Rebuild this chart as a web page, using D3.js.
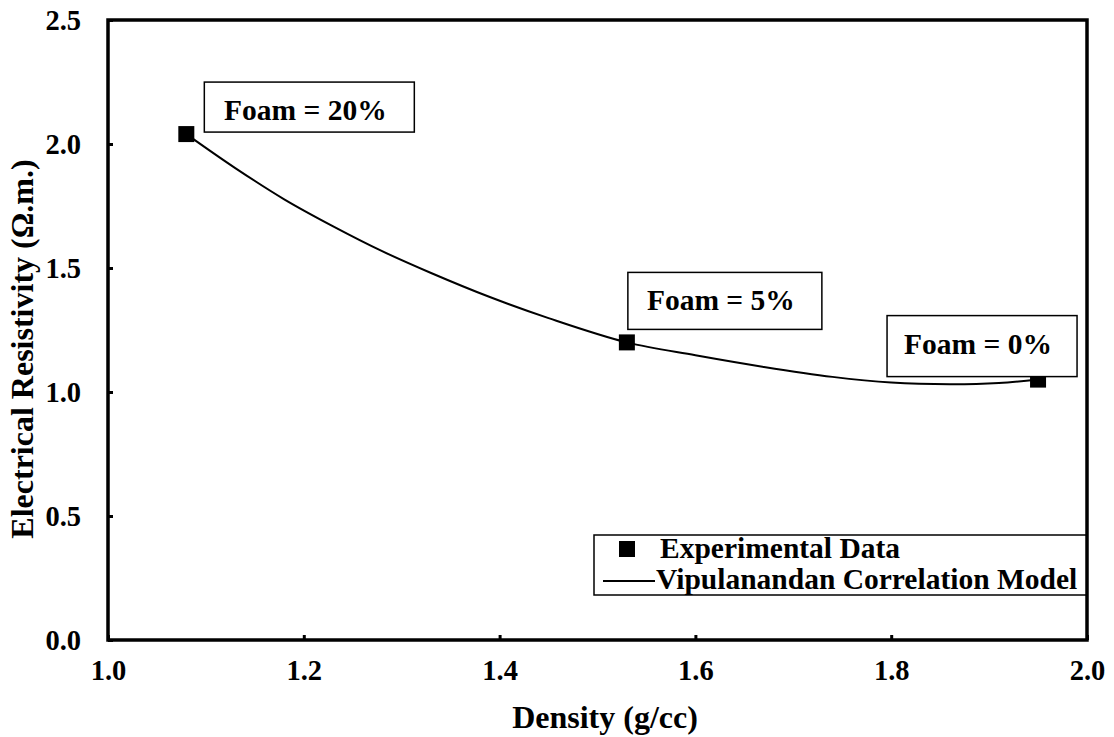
<!DOCTYPE html>
<html>
<head>
<meta charset="utf-8">
<script src="https://cdn.jsdelivr.net/npm/d3@7"></script>
<style>
  html, body { margin: 0; padding: 0; background: #fff; }
  svg { display: block; }
  text { font-family: "Liberation Serif", "Times New Roman", serif; font-weight: bold; fill: #000; }
</style>
</head>
<body>
<svg id="chart" width="1114" height="737"></svg>
<script>
// ---- data ----
const density = [1.08, 1.53, 1.95];
const resistivity = [2.04, 1.20, 1.05];
const foamLabels = ["Foam = 20%", "Foam = 5%", "Foam = 0%"];
const modelDensity = [1.08, 1.13, 1.18, 1.23, 1.28, 1.33, 1.39, 1.45, 1.53, 1.60, 1.67, 1.74, 1.80, 1.86, 1.91, 1.95];
const modelResistivity = [2.04, 1.903, 1.777, 1.668, 1.568, 1.480, 1.383, 1.298, 1.20, 1.148, 1.101, 1.061, 1.038, 1.031, 1.036, 1.05];
const xTicks = [1.0, 1.2, 1.4, 1.6, 1.8, 2.0];
const yTicks = [0.0, 0.5, 1.0, 1.5, 2.0, 2.5];
const legendLabels = ["Experimental Data", "Vipulanandan Correlation Model"];
const xTitle = "Density (g/cc)";
const yTitle = "Electrical Resistivity (\u03A9.m.)";

// ---- layout ----
const W = 1114, H = 737;
const margin = { left: 108, top: 20, right: 27, bottom: 97 };
const svg = d3.select("#chart");
const x = d3.scaleLinear().domain([1.0, 2.0]).range([margin.left, W - margin.right]);
const y = d3.scaleLinear().domain([0, 2.5]).range([H - margin.bottom, margin.top]);
const FS_TICK = 28.5, FS_TXT = 29.5, FS_TITLE = 32;

// axes with inward ticks
const xAxis = d3.axisBottom(x).tickValues(xTicks).tickFormat(d3.format(".1f")).tickSizeInner(-5).tickSizeOuter(0).tickPadding(20);
const yAxis = d3.axisLeft(y).tickValues(yTicks).tickFormat(d3.format(".1f")).tickSizeInner(-5).tickSizeOuter(0).tickPadding(27);

const gx = svg.append("g").attr("transform", `translate(0,${y(0)})`).call(xAxis);
const gy = svg.append("g").attr("transform", `translate(${x(1.0)},0)`).call(yAxis);
[gx, gy].forEach(g => {
  g.select(".domain").remove();
  g.selectAll(".tick line").attr("stroke", "#000").attr("stroke-width", 3);
  g.selectAll(".tick text").attr("font-size", FS_TICK).attr("font-family", "Liberation Serif").attr("font-weight", "bold").attr("fill", "#000");
});
gx.selectAll(".tick text").attr("dy", "0.71em");

// frame
svg.append("rect")
  .attr("x", x(1.0)).attr("y", y(2.5))
  .attr("width", x(2.0) - x(1.0)).attr("height", y(0) - y(2.5))
  .attr("fill", "none").attr("stroke", "#000").attr("stroke-width", 3.5);

// model curve
const line = d3.line().x(d => x(d)).y((d, i) => y(modelResistivity[i])).curve(d3.curveCatmullRom.alpha(0.5));
svg.append("path").datum(modelDensity).attr("d", line)
  .attr("fill", "none").attr("stroke", "#000").attr("stroke-width", 2);

// markers
const MS = 16;
svg.selectAll("rect.pt").data(density).join("rect").attr("class", "pt")
  .attr("x", d => x(d) - MS / 2).attr("y", (d, i) => y(resistivity[i]) - MS / 2)
  .attr("width", MS).attr("height", MS).attr("fill", "#000");

// annotation boxes (offsets relative to each data point)
const annOff = [
  { dx: 18, dy: -52, w: 210, h: 50 },
  { dx: 1, dy: -70, w: 194, h: 57 },
  { dx: -151, dy: -64, w: 190, h: 61 }
];
density.forEach((d, i) => {
  const o = annOff[i];
  const bx = x(d) + o.dx, by = y(resistivity[i]) + o.dy;
  svg.append("rect").attr("x", bx).attr("y", by).attr("width", o.w).attr("height", o.h)
    .attr("fill", "#fff").attr("stroke", "#000").attr("stroke-width", 1.5);
  svg.append("text").attr("x", bx + o.w / 2 - 4).attr("y", by + 38)
    .attr("text-anchor", "middle").attr("font-size", FS_TXT).text(foamLabels[i]);
});

// legend
const lg = { x: 594, y: 535, w: x(2.0) - 594 - 1, h: 60 };
svg.append("rect").attr("x", lg.x).attr("y", lg.y).attr("width", lg.w).attr("height", lg.h)
  .attr("fill", "#fff").attr("stroke", "#000").attr("stroke-width", 1.5);
svg.append("rect").attr("x", 619).attr("y", 541).attr("width", MS).attr("height", MS).attr("fill", "#000");
svg.append("text").attr("x", 660).attr("y", 558).attr("font-size", FS_TXT).text(legendLabels[0]);
svg.append("line").attr("x1", 603).attr("x2", 655).attr("y1", 581).attr("y2", 581).attr("stroke", "#000").attr("stroke-width", 2);
svg.append("text").attr("x", 656).attr("y", 589).attr("font-size", FS_TXT).text(legendLabels[1]);

// axis titles
svg.append("text").attr("x", 605).attr("y", 728).attr("text-anchor", "middle").attr("font-size", FS_TITLE).text(xTitle);
svg.append("text").attr("transform", `translate(33,349) rotate(-90)`).attr("text-anchor", "middle").attr("font-size", FS_TITLE).text(yTitle);
</script>
</body>
</html>
